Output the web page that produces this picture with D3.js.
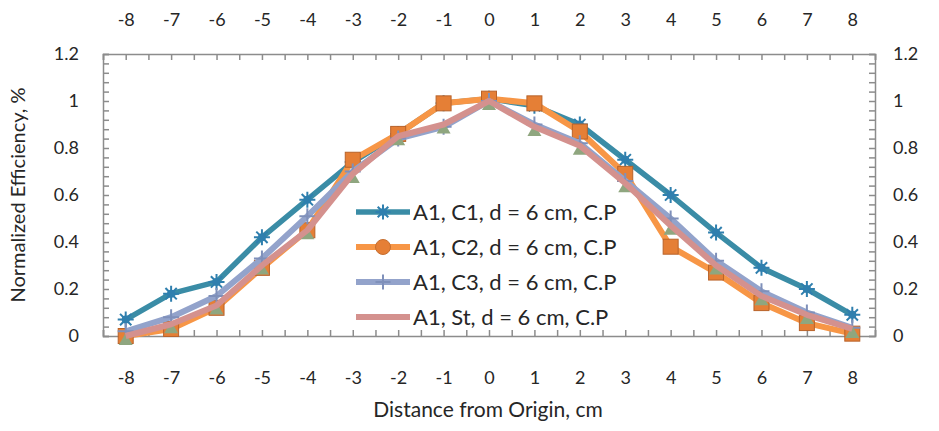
<!DOCTYPE html>
<html>
<head>
<meta charset="utf-8">
<script src="https://cdn.jsdelivr.net/npm/d3@7/dist/d3.min.js"></script>
<style>
  html, body { margin: 0; padding: 0; background: #fff; }
  svg text { font-family: Lato, "Open Sans", sans-serif; fill: #262626; }
</style>
</head>
<body>
<svg id="chart" width="939" height="431"></svg>
<script>
// Distance categories (cm) shared by the top and bottom axes
const distances = [-8, -7, -6, -5, -4, -3, -2, -1, 0, 1, 2, 3, 4, 5, 6, 7, 8];
const yTicks = [0, 0.2, 0.4, 0.6, 0.8, 1, 1.2];

// Normalized efficiency per configuration
const c1Values = [0.07, 0.18, 0.23, 0.42, 0.58, 0.74, 0.86, 0.99, 1.01, 0.98, 0.90, 0.75, 0.60, 0.44, 0.29, 0.20, 0.09];
const c2Values = [0.00, 0.03, 0.12, 0.29, 0.45, 0.75, 0.86, 0.99, 1.01, 0.99, 0.87, 0.69, 0.38, 0.27, 0.14, 0.055, 0.01];
const c3Values = [0.02, 0.08, 0.17, 0.33, 0.51, 0.70, 0.84, 0.89, 1.00, 0.90, 0.82, 0.66, 0.50, 0.32, 0.19, 0.10, 0.035];
const stValues = [0.00, 0.05, 0.13, 0.30, 0.45, 0.69, 0.85, 0.90, 1.00, 0.89, 0.81, 0.65, 0.47, 0.30, 0.17, 0.09, 0.03];

const seriesNames = ["A1, C1, d = 6 cm, C.P", "A1, C2, d = 6 cm, C.P", "A1, C3, d = 6 cm, C.P", "A1, St, d = 6 cm, C.P"];

const series = [
  { name: seriesNames[0], values: c1Values, line: "#3A8CA6", marker: "star",   mColor: "#2F7FAE", width: 5.5 },
  { name: seriesNames[1], values: c2Values, line: "#F79646", marker: "square", mColor: "#E57F36", width: 6 },
  { name: seriesNames[2], values: c3Values, line: "#93A3CB", marker: "plus",   mColor: "#7F90BA", width: 6 },
  { name: seriesNames[3], values: stValues, line: "#D4918E", marker: "tri",    mColor: "#8FA67F", width: 6 }
];

const svg = d3.select("#chart");
const plotL = 103, plotR = 875, plotT = 54, plotB = 336;

const x = d3.scalePoint().domain(distances).range([plotL, plotR]).padding(0.5);
const xMinor = d3.scaleLinear().domain([0, distances.length]).range([plotL, plotR]);
const y = d3.scaleLinear().domain([0, 1.2]).range([plotB, plotT]);

const axisColor = "#8c8c8c";
const minorX = d3.range(0, distances.length + 0.01, 0.5);
const minorY = d3.range(0, 1.2001, 0.04);

// Frame ticks (pointing inward)
svg.append("g").attr("transform", `translate(0,${plotB})`)
  .call(d3.axisTop(xMinor).tickValues(minorX).tickSize(6).tickFormat(""))
  .call(g => g.selectAll("line, path").attr("stroke", axisColor).attr("stroke-width", 1.5));
svg.append("g").attr("transform", `translate(0,${plotT})`)
  .call(d3.axisBottom(xMinor).tickValues(minorX).tickSize(6).tickFormat(""))
  .call(g => g.selectAll("line, path").attr("stroke", axisColor).attr("stroke-width", 1.5));
svg.append("g").attr("transform", `translate(${plotL},0)`)
  .call(d3.axisRight(y).tickValues(minorY).tickSize(6).tickFormat(""))
  .call(g => g.selectAll("line, path").attr("stroke", axisColor).attr("stroke-width", 1.5));
svg.append("g").attr("transform", `translate(${plotR},0)`)
  .call(d3.axisLeft(y).tickValues(minorY).tickSize(6).tickFormat(""))
  .call(g => g.selectAll("line, path").attr("stroke", axisColor).attr("stroke-width", 1.5));

// Tick labels
const labelSize = 18;
const fmtY = d => d3.format("~g")(d);
function styleLabels(g) {
  g.select(".domain").remove();
  g.selectAll("text").attr("font-size", labelSize).attr("font-family", "Lato").attr("fill", "#262626");
}
svg.append("g").attr("transform", `translate(0,${plotB + 35})`)
  .call(d3.axisBottom(x).tickSize(0).tickPadding(0)).call(styleLabels);
svg.append("g").attr("transform", `translate(0,${plotT - 28})`)
  .call(d3.axisTop(x).tickSize(0).tickPadding(0)).call(styleLabels);
svg.append("g").attr("transform", `translate(${plotL - 24},0)`)
  .call(d3.axisLeft(y).tickValues(yTicks).tickSize(0).tickPadding(0).tickFormat(fmtY)).call(styleLabels);
svg.append("g").attr("transform", `translate(${plotR + 18},0)`)
  .call(d3.axisRight(y).tickValues(yTicks).tickSize(0).tickPadding(0).tickFormat(fmtY)).call(styleLabels);

// Axis titles
svg.append("text").attr("x", 488).attr("y", 417)
  .attr("text-anchor", "middle").attr("font-size", 21).text("Distance from Origin, cm");
svg.append("text").attr("transform", `translate(25,${(plotT + plotB) / 2}) rotate(-90)`)
  .attr("text-anchor", "middle").attr("font-size", 20).text("Normalized Efficiency, %");

// Marker shapes
function drawMarker(g, type, cx, cy, color, s) {
  if (type === "star") {
    const r = s / 2;
    const p = [];
    for (let k = 0; k < 8; k++) {
      const a = k * Math.PI / 4;
      p.push(`M${cx},${cy}L${cx + r * Math.cos(a)},${cy + r * Math.sin(a)}`);
    }
    g.append("path").attr("d", p.join("")).attr("stroke", color).attr("stroke-width", 2);
    g.append("circle").attr("cx", cx).attr("cy", cy).attr("r", r * 0.5).attr("fill", color);
  } else if (type === "square") {
    g.append("rect").attr("x", cx - s / 2).attr("y", cy - s / 2).attr("width", s).attr("height", s)
      .attr("fill", color).attr("stroke", "#B8632A").attr("stroke-width", 1);
  } else if (type === "circle") {
    g.append("circle").attr("cx", cx).attr("cy", cy).attr("r", s / 2).attr("fill", color)
      .attr("stroke", "#C56E30").attr("stroke-width", 1);
  } else if (type === "plus") {
    g.append("path").attr("d", `M${cx - s / 2},${cy}H${cx + s / 2}M${cx},${cy - s / 2}V${cy + s / 2}`)
      .attr("stroke", color).attr("stroke-width", 2);
  } else if (type === "tri") {
    const h = s * 0.87;
    g.append("path").attr("d", `M${cx},${cy - h / 2}L${cx + s / 2},${cy + h / 2}L${cx - s / 2},${cy + h / 2}Z`)
      .attr("fill", color);
  }
}

const line = d3.line().x((d, i) => x(distances[i])).y(d => y(d));

series.forEach(s => {
  const g = svg.append("g");
  if (s.marker === "tri") {
    s.values.forEach((v, i) => drawMarker(g, s.marker, x(distances[i]), y(v) + 3, s.mColor, 14));
  }
  g.append("path").datum(s.values).attr("d", line).attr("fill", "none")
    .attr("stroke", s.line).attr("stroke-width", s.width).attr("stroke-linejoin", "round");
  if (s.marker !== "tri") {
    s.values.forEach((v, i) => drawMarker(g, s.marker, x(distances[i]), y(v), s.mColor, s.marker === "square" ? 15 : 16));
  }
});

// Legend
const legend = svg.append("g");
const legendMarkers = ["star", "circle", "plus", null];
series.forEach((s, i) => {
  const ly = 212 + i * 35;
  legend.append("line").attr("x1", 356).attr("x2", 410).attr("y1", ly).attr("y2", ly)
    .attr("stroke", s.line).attr("stroke-width", s.width);
  if (legendMarkers[i]) drawMarker(legend, legendMarkers[i], 383, ly, s.mColor, 15);
  legend.append("text").attr("x", 413).attr("y", ly + 8).attr("font-size", 22).text(s.name);
});
</script>
</body>
</html>
